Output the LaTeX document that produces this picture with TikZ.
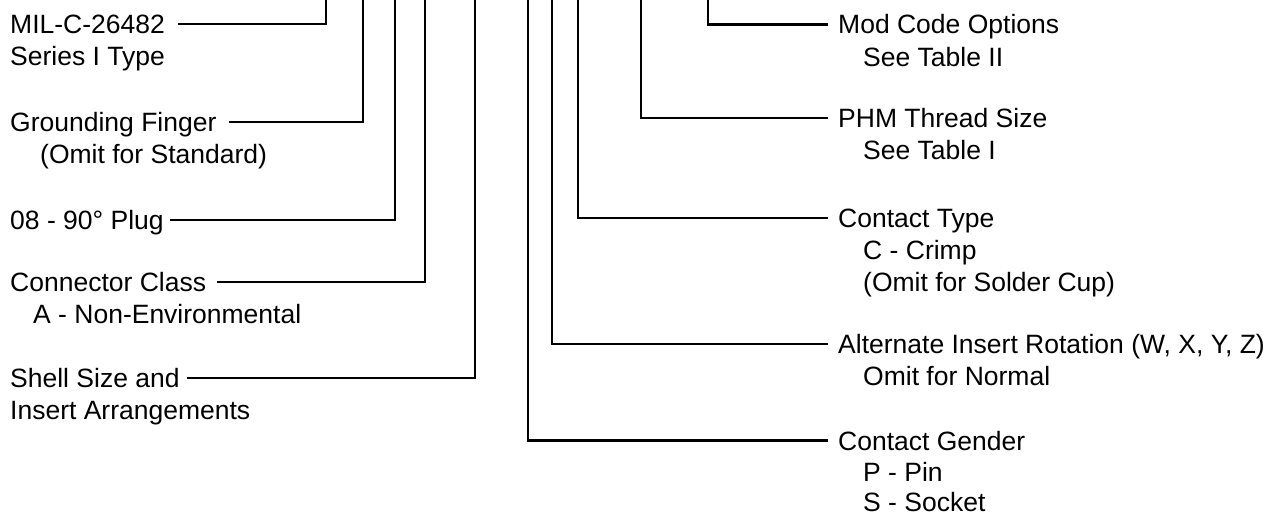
\documentclass[tikz,border=0pt]{standalone}
\usepackage{fontspec}
\setmainfont{Liberation Sans}
\begin{document}
\begin{tikzpicture}[x=1pt,y=-1pt,
  lbl/.style={font=\fontsize{26.5}{32}\selectfont, inner sep=0pt, anchor=base west, text=black},
  conn/.style={draw=black, line width=2.2pt, line join=miter}]
\useasboundingbox (0,0) rectangle (1270,514);
% ---- left labels
\node[lbl] (mil)  at (10,33.3)  {MIL-C-26482};
\node[lbl] (mil2) at (10,65.3)  {Series I Type};
\node[lbl] (gf)   at (10,131.3) {Grounding Finger};
\node[lbl] (gf2)  at (40,163.3) {(Omit for Standard)};
\node[lbl] (plug) at (10,229.3) {08 - 90° Plug};
\node[lbl] (cc)   at (10,291.3) {Connector Class};
\node[lbl] (cc2)  at (33,323.3) {A - Non-Environmental};
\node[lbl] (ss)   at (10,387.3) {Shell Size and};
\node[lbl] (ss2)  at (10,419.3) {Insert Arrangements};
% ---- right labels
\node[lbl] (mod)  at (838,34)   {Mod Code Options};
\node[lbl] (mod2) at (863,66)   {See Table II};
\node[lbl] (phm)  at (838,127.3){PHM Thread Size};
\node[lbl] (phm2) at (863,159.3){See Table I};
\node[lbl] (ct)   at (838,227.3){Contact Type};
\node[lbl] (ct2)  at (863,259.3){C - Crimp};
\node[lbl] (ct3)  at (863,291.3){(Omit for Solder Cup)};
\node[lbl] (alt)  at (838,353.3){Alternate Insert Rotation (W, X, Y, Z)};
\node[lbl] (alt2) at (863,385.3){Omit for Normal};
\node[lbl] (gen)  at (838,450)  {Contact Gender};
\node[lbl] (gen2) at (863,481)  {P - Pin};
\node[lbl] (gen3) at (863,511.5){S - Socket};
% ---- top ends of the vertical leads
\coordinate (tmil)  at (326,-2);
\coordinate (tgf)   at (363,-2);
\coordinate (tplug) at (395,-2);
\coordinate (tcc)   at (425,-2);
\coordinate (tss)   at (475,-2);
\coordinate (tgen)  at (528,-2);
\coordinate (talt)  at (552,-2);
\coordinate (tct)   at (578,-2);
\coordinate (tphm)  at (641,-2);
\coordinate (tmod)  at (708,-2);
% ---- connectors, left
\draw[conn] ([shift={(13,-9.5)}]mil.base east)  -| (tmil);
\draw[conn] ([shift={(12,-9.5)}]gf.base east)   -| (tgf);
\draw[conn] ([shift={(6,-9.5)}]plug.base east)  -| (tplug);
\draw[conn] ([shift={(11,-9.5)}]cc.base east)   -| (tcc);
\draw[conn] ([shift={(7,-9.5)}]ss.base east)    -| (tss);
% ---- connectors, right
\draw[conn] (tmod) |- ([shift={(-10,-9.5)}]mod.base west);
\draw[conn] (tphm) |- ([shift={(-10,-9.5)}]phm.base west);
\draw[conn] (tct)  |- ([shift={(-10,-9.5)}]ct.base west);
\draw[conn] (talt) |- ([shift={(-10,-9.5)}]alt.base west);
\draw[conn] (tgen) |- ([shift={(-10,-9.5)}]gen.base west);
\end{tikzpicture}
\end{document}
